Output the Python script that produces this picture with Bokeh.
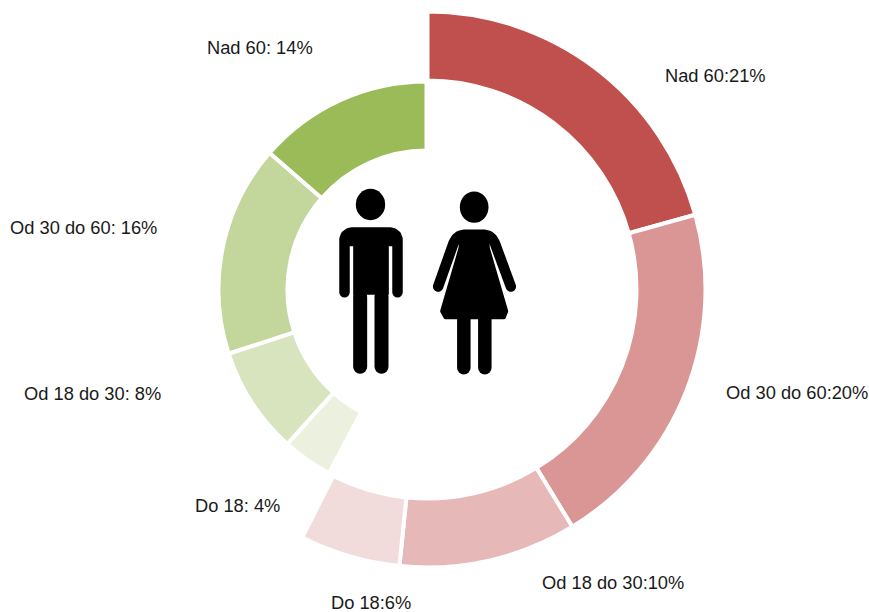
import math
from bokeh.plotting import figure
from bokeh.models import Range1d
from bokeh.core.properties import value
from bokeh.embed import file_html
from bokeh.resources import INLINE

# Sweep of each segment (degrees)
male_labels = ["Nad 60:21%", "Od 30 do 60:20%", "Od 18 do 30:10%", "Do 18:6%"]
male_sweep = [74.4, 74.2, 37.2, 21.0]
male_colors = ["#C0504D", "#D99694", "#E6B9B8", "#F2DCDB"]
female_labels = ["Nad 60: 14%", "Od 30 do 60: 16%", "Od 18 do 30: 8%", "Do 18: 4%"]
female_sweep = [49, 59, 30, 14]
female_colors = ["#9BBB59", "#C3D69B", "#D7E4BD", "#EBF1DE"]

W, H = 869, 612
Y = lambda y: 612 - y
p = figure(width=W, height=H, x_range=Range1d(0, 869), y_range=Range1d(0, 612),
           output_backend="svg", toolbar_location=None, min_border=0,
           outline_line_color=None, background_fill_color="white")
p.axis.visible = False
p.grid.visible = False

GAP = 2  # half of the white separator, px


def ring(cx, cy, r0, r1, sweeps, colors, clockwise=True, start=0.0):
    a = start
    for s, c in zip(sweeps, colors):
        if clockwise:
            st, en = math.pi / 2 - math.radians(a), math.pi / 2 - math.radians(a + s)
            d = "clock"
        else:
            st, en = math.pi / 2 + math.radians(a), math.pi / 2 + math.radians(a + s)
            d = "anticlock"
        p.annular_wedge(x=[cx], y=[Y(cy)], inner_radius=r0 - GAP, outer_radius=r1 + GAP,
                        start_angle=st, end_angle=en, direction=d, fill_color=c,
                        line_color="white", line_width=2 * GAP)
        a += s


ring(427, 289, 211, 276, male_sweep, male_colors, True, 0.0)
ring(426, 289, 141, 206, female_sweep, female_colors, False)


# Pictogram outlines
def zx(v):
    return 270 + v / 3


def zy(v):
    return Y(150 + v / 3)


man_limbs = [[(222, 425), (222, 266), (226, 255), (236, 248), (246, 246), (357, 246), (367, 248), (377, 255), (381, 266), (381, 425)]]
man_legs = [[(269, 440), (269, 649)], [(333, 440), (333, 649)]]
man_torso = [(235, 246), (368, 246), (368, 287), (355, 287), (355, 433), (248, 433), (248, 287), (235, 287)]
woman_limbs = [[(503, 408), (549, 278), (557, 264), (567, 256), (580, 253), (642, 253), (655, 256), (665, 264), (673, 278), (721, 408)]]
woman_legs = [[(580, 495), (580, 652)], [(643, 495), (643, 652)]]
woman_dress = [(572, 253), (650, 253), (652, 293), (707, 482), (700, 500), (525, 500), (515, 482), (570, 293)]


def lines(paths, w):
    p.multi_line([[zx(a) for a, _ in l] for l in paths], [[zy(b) for _, b in l] for l in paths],
                 line_color="black", line_width=w, line_cap="round", line_join="round")


def poly(pts, lw=0):
    p.patch([zx(a) for a, _ in pts], [zy(b) for _, b in pts], fill_color="black",
            line_color="black" if lw else None, line_width=lw or 1, line_join="round")


p.ellipse(x=[zx(300)], y=[zy(162)], width=[88 / 3], height=[94 / 3], fill_color="black", line_color=None)
p.ellipse(x=[zx(611)], y=[zy(170)], width=[86 / 3], height=[94 / 3], fill_color="black", line_color=None)
poly(man_torso)
lines(man_limbs, 10.5)
lines(man_legs, 14)
poly(woman_dress, 4)
lines(woman_limbs, 10.5)
lines(woman_legs, 13.5)

# Labels
label_x = [664.5, 725.5, 541.5, 330.5, 206.5, 9.5, 23.5, 194.5]
label_y = [74.5, 391.5, 581.5, 601.5, 46.5, 226.5, 392.5, 504.5]
labels = male_labels + female_labels
p.text(x=label_x, y=[Y(v) for v in label_y], text=labels, text_font=value("Liberation Sans"),
       text_font_size="18.3px", text_color="#1a1a1a", text_align="left", text_baseline="middle")

open("out.html", "w").write(file_html(p, INLINE))
